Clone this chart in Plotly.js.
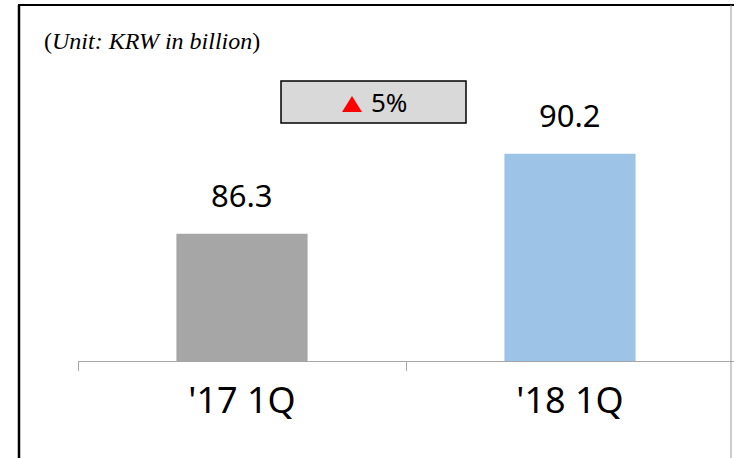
<!DOCTYPE html>
<html>
<head>
<meta charset="utf-8">
<script src="https://cdn.plot.ly/plotly-3.0.1.min.js"></script>
<style>html,body{margin:0;padding:0;background:#fff;}#chart{width:734px;height:458px;}</style>
</head>
<body>
<div id="chart"></div>
<script>
const categories = ["'17 1Q", "'18 1Q"];
const values = [86.3, 90.2];
const valueLabels = ["86.3", "90.2"];
const barColors = ["#a6a6a6", "#9dc3e6"];
const unitText = "(<i>Unit: KRW in billion</i>)";
const growthText = "5%";

const W = 734, H = 458;
const L = 78, R = 0, T = 5, B = 97;
const pw = W - L - R, ph = H - T - B;
const px = x => (x - L) / pw;
const py = y => (H - B - y) / ph;

const data = [{
  type: 'bar',
  x: categories,
  y: values,
  width: 0.4,
  marker: {color: barColors},
  hoverinfo: 'none'
}];

const annotations = categories.map((c, i) => ({
  x: c, y: values[i], xref: 'x', yref: 'y',
  text: valueLabels[i], showarrow: false,
  yanchor: 'bottom', yshift: 16,
  font: {family: 'Noto Sans, sans-serif', size: 31, color: '#000'}
}));
annotations.push({
  xref: 'paper', yref: 'paper', x: px(42), y: py(41),
  xanchor: 'left', yanchor: 'middle', showarrow: false,
  text: unitText,
  font: {family: 'Liberation Serif, serif', size: 24, color: '#000'}
});
annotations.push({
  xref: 'paper', yref: 'paper', x: px(369), y: py(102),
  xanchor: 'left', yanchor: 'middle', showarrow: false,
  text: growthText,
  font: {family: 'Noto Sans, sans-serif', size: 26, color: '#000'}
});

const shapes = [
  {type: 'rect', xref: 'paper', yref: 'paper', x0: px(281), x1: px(466), y0: py(81), y1: py(123),
   fillcolor: '#d9d9d9', line: {color: '#000', width: 1.5}},
  {type: 'path', xref: 'paper', yref: 'paper',
   path: 'M ' + px(342) + ' ' + py(112) + ' L ' + px(362) + ' ' + py(112) + ' L ' + px(352) + ' ' + py(96) + ' Z',
   fillcolor: '#ff0000', line: {width: 0}},
  {type: 'line', xref: 'paper', yref: 'paper', x0: px(19), x1: px(19), y0: py(5), y1: py(460), line: {color: '#000', width: 2.5}},
  {type: 'line', xref: 'paper', yref: 'paper', x0: px(18), x1: px(734), y0: py(5), y1: py(5), line: {color: '#000', width: 2}},
  {type: 'line', xref: 'paper', yref: 'paper', x0: px(731), x1: px(731), y0: py(5), y1: py(460), line: {color: '#999', width: 1}}
];

const layout = {
  width: W, height: H,
  margin: {l: L, r: R, t: T, b: B, pad: 0},
  paper_bgcolor: '#fff', plot_bgcolor: '#fff',
  showlegend: false,
  xaxis: {
    type: 'category', range: [-0.5, 1.5], fixedrange: true,
    showline: true, linecolor: '#a6a6a6', linewidth: 1,
    ticks: 'outside', tickson: 'boundaries', ticklen: 9, tickcolor: '#a6a6a6', tickwidth: 1,
    showgrid: false, zeroline: false, ticklabelstandoff: 8,
    tickfont: {family: 'Noto Sans, sans-serif', size: 36, color: '#000'}
  },
  yaxis: {
    range: [80.1, 97.45], visible: false, fixedrange: true, showgrid: false, zeroline: false
  },
  annotations: annotations,
  shapes: shapes
};

Plotly.newPlot('chart', data, layout, {staticPlot: true, displayModeBar: false});
</script>
</body>
</html>
